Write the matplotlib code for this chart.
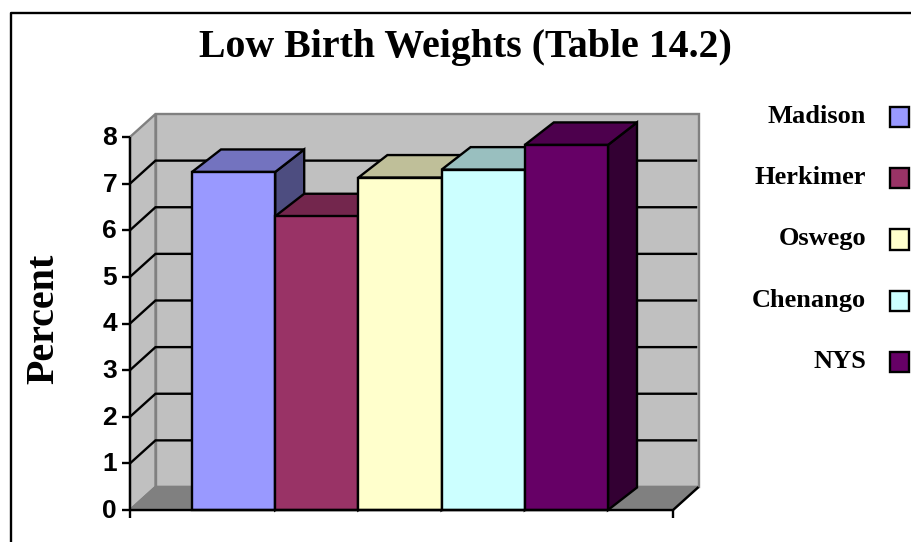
# -*- coding: utf-8 -*-
import numpy as np
import matplotlib
matplotlib.use('Agg')
import matplotlib.pyplot as plt
from matplotlib.colors import to_rgb
from matplotlib.patches import Rectangle

counties = ['Madison', 'Herkimer', 'Oswego', 'Chenango', 'NYS']
percents = [7.25, 6.3, 7.13, 7.3, 7.83]
bar_colors = ['#9999FF', '#993366', '#FFFFCC', '#CCFFFF', '#660066']
y_ticks = [0, 1, 2, 3, 4, 5, 6, 7, 8]

W, H = 911, 542
LW = 1.7


def fx(px):
    return px / W


def fy(px):
    return 1 - px / H


def shade(color, factor):
    return tuple(c * factor for c in to_rgb(color))


fig = plt.figure(figsize=(W / 100, H / 100), dpi=100, facecolor='white')
serif = 'Liberation Serif'
sans = 'Liberation Sans'

# page frame, only the left and top edges are inside the picture
fig.add_artist(plt.Line2D([fx(11), fx(11), fx(W)], [fy(H), fy(13), fy(13)],
                          color='black', lw=LW, transform=fig.transFigure))

fig.text(fx(465.5), fy(57), 'Low Birth Weights (Table 14.2)', family=serif,
         weight='bold', size=28.7, ha='center', va='baseline')
fig.text(fx(62), fy(319), 'Percent', family=serif, weight='bold', size=28.8,
         rotation=90, ha='right', va='center')

ax = fig.add_axes([fx(130), fy(510), fx(673 - 130), fy(137) - fy(510)])
ax.set_xlim(-62 / 83.2, 5 + 65 / 83.2)
ax.set_ylim(0, 8)
ax.axis('off')

x0, x1 = ax.get_xlim()
wall_dx = 25.5 / 83.2
wall_dy = 23 / 46.6
bar_dx = 29 / 83.2
bar_dy = 22.5 / 46.6
wall_grey = '#C0C0C0'
floor_grey = '#808080'

# walls and floor
ax.fill([x0 + wall_dx, x1 + wall_dx, x1 + wall_dx, x0 + wall_dx],
        [wall_dy, wall_dy, 8 + wall_dy, 8 + wall_dy],
        fc=wall_grey, ec=floor_grey, lw=LW, clip_on=False, zorder=1)
ax.fill([x0, x0 + wall_dx, x0 + wall_dx, x0],
        [0, wall_dy, 8 + wall_dy, 8],
        fc=wall_grey, ec=floor_grey, lw=LW, clip_on=False, zorder=1)
ax.fill([x0, x1, x1 + wall_dx, x0 + wall_dx],
        [0, 0, wall_dy, wall_dy],
        fc=floor_grey, ec=floor_grey, lw=LW, clip_on=False, zorder=1)

# gridlines run along the left wall and then the back wall
for v in y_ticks[1:-1]:
    ax.plot([x0, x0 + wall_dx, x1 + wall_dx * 0.95],
            [v, v + wall_dy, v + wall_dy],
            color='black', lw=LW, clip_on=False, zorder=2,
            solid_joinstyle='miter', solid_capstyle='butt')

# bars are drawn left to right so later ones cover the side faces
for i, (val, col) in enumerate(zip(percents, bar_colors)):
    z = 3 + i
    ax.fill([i + 1, i + 1 + bar_dx, i + 1 + bar_dx, i + 1],
            [0, bar_dy, val + bar_dy, val],
            fc=shade(col, 0.5), ec='black', lw=LW, clip_on=False, zorder=z)
    ax.fill([i, i + 1, i + 1 + bar_dx, i + bar_dx],
            [val, val, val + bar_dy, val + bar_dy],
            fc=shade(col, 0.75), ec='black', lw=LW, clip_on=False, zorder=z)
    ax.bar(i, val, width=1, align='edge', color=col, edgecolor='black',
           linewidth=LW, clip_on=False, zorder=z)

# floor edge, axis line and ticks
ax.plot([x0, x1, x1 + wall_dx], [0, 0, wall_dy], color='black', lw=LW,
        clip_on=False, zorder=10, solid_capstyle='butt')
ax.plot([x0, x0], [-8 / 46.6, 8], color='black', lw=LW, clip_on=False,
        zorder=10, solid_capstyle='butt')
ax.plot([x1, x1], [-8 / 46.6, 0], color='black', lw=LW, clip_on=False,
        zorder=10, solid_capstyle='butt')
tick_len = 8 / 83.2
for v in y_ticks:
    ax.plot([x0 - tick_len, x0], [v, v], color='black', lw=LW, clip_on=False,
            zorder=10, solid_capstyle='butt')
    ax.text(x0 - 13 / 83.2, v + 1.5 / 46.6, str(v), family=sans, weight='bold',
            size=19, ha='right', va='center_baseline', clip_on=False)

# legend
legend_y = np.array([117, 178, 239.5, 300.5, 361.5])
for name, col, py in zip(counties, bar_colors, legend_y):
    fig.text(fx(866), fy(py + 6), name, family=serif, weight='bold', size=19,
             ha='right', va='baseline')
    fig.add_artist(Rectangle((fx(889.5), fy(py + 10)), fx(19.5), fy(py - 10) - fy(py + 10),
                             fc=col, ec='black', lw=LW, transform=fig.transFigure))

fig.savefig('out.png', dpi=100)
